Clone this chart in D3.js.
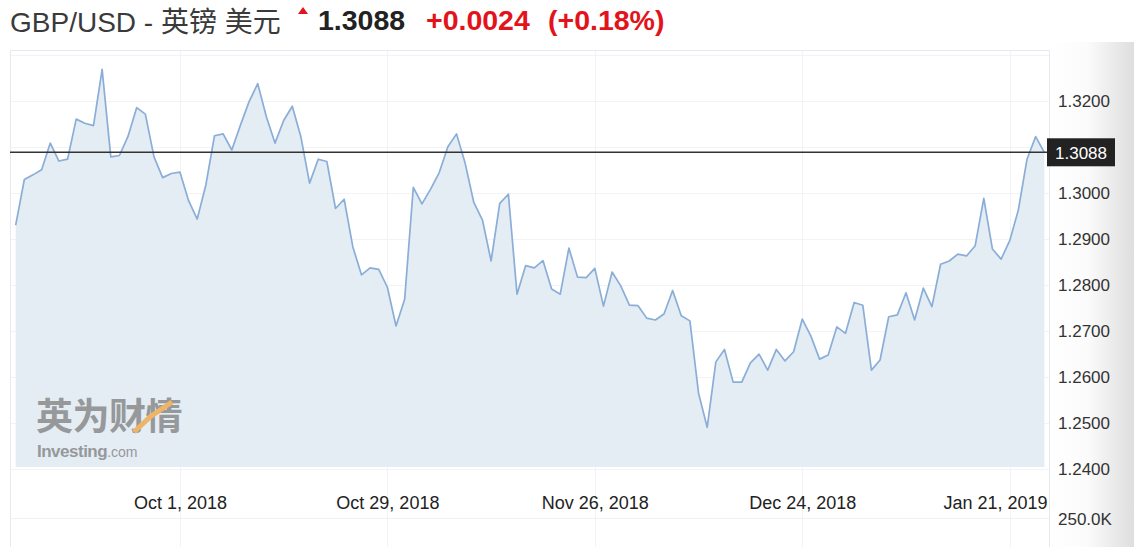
<!DOCTYPE html>
<html>
<head>
<meta charset="utf-8">
<script src="https://cdn.jsdelivr.net/npm/d3@7"></script>
<style>
  body { margin: 0; background: #fff; }
  text { font-family: "Liberation Sans", Arial, "Noto Sans CJK SC", sans-serif; }
</style>
</head>
<body>
<div id="chart"></div>
<script>
// header
const pairName = 'GBP/USD - 英镑 美元';
const lastPrice = 1.3088;
const changeText = '+0.0024';
const changePctText = '(+0.18%)';

// daily closes, one per trading day (Sun–Fri), starting Sunday 9 Sep 2018
const startDate = '2018-09-09';
const closes = [
  1.2930, 1.3029, 1.3039, 1.3050, 1.3108, 1.3069, 1.3073, 1.3160, 1.3151, 1.3146,
  1.3268, 1.3078, 1.3081, 1.3123, 1.3185, 1.3171, 1.3078, 1.3033, 1.3042, 1.3045,
  1.2983, 1.2943, 1.3017, 1.3124, 1.3128, 1.3093, 1.3147, 1.3198, 1.3237, 1.3165,
  1.3108, 1.3157, 1.3188, 1.3121, 1.3021, 1.3073, 1.3068, 1.2966, 1.2986, 1.2883,
  1.2822, 1.2837, 1.2834, 1.2795, 1.2711, 1.2769, 1.3012, 1.2976, 1.3008, 1.3044,
  1.3100, 1.3128, 1.3064, 1.2979, 1.2941, 1.2852, 1.2977, 1.2997, 1.2780, 1.2842,
  1.2837, 1.2853, 1.2791, 1.2780, 1.2880, 1.2817, 1.2816, 1.2836, 1.2754, 1.2828,
  1.2798, 1.2756, 1.2755, 1.2728, 1.2724, 1.2737, 1.2788, 1.2733, 1.2722, 1.2565,
  1.2491, 1.2633, 1.2660, 1.2589, 1.2589, 1.2631, 1.2650, 1.2615, 1.2660, 1.2635,
  1.2655, 1.2726, 1.2689, 1.2639, 1.2648, 1.2709, 1.2695, 1.2762, 1.2756, 1.2615,
  1.2637, 1.2731, 1.2735, 1.2783, 1.2724, 1.2793, 1.2753, 1.2845, 1.2852, 1.2867,
  1.2863, 1.2885, 1.2988, 1.2878, 1.2856, 1.2896, 1.2963, 1.3073, 1.3122, 1.3088,
];

const gridValues = [1.24, 1.25, 1.26, 1.27, 1.28, 1.29, 1.30, 1.31, 1.32, 1.33];
// 1.3100 sits under the price tag, so it gets no label
const yTicks = [1.24, 1.25, 1.26, 1.27, 1.28, 1.29, 1.30, 1.32];
const xTickLabels = ['Oct 1, 2018', 'Oct 29, 2018', 'Nov 26, 2018', 'Dec 24, 2018', 'Jan 21, 2019'];
const volumeLabel = '250.0K';

const W = 1134;
const H = 547;
const frame = { left: 10, right: 1049, top: 50, bottom: 547 };
const plotBottom = 467;
const volTop = 518;

// trading days skip Saturdays
const dates = [];
let d = d3.timeParse('%Y-%m-%d')(startDate);
while (dates.length < closes.length) {
  if (d.getDay() !== 6) dates.push(d);
  d = d3.timeDay.offset(d, 1);
}
const fmtDate = d3.timeFormat('%b %-d, %Y');
const data = closes.map((c, i) => ({ i, date: dates[i], close: c }));
const tickIdx = xTickLabels.map(l => data.findIndex(p => fmtDate(p.date) === l));

const x = d3.scaleLinear().domain([0, closes.length - 1]).range([15.7, 1044.3]);
const y = d3.scaleLinear().domain([1.24, 1.32]).range([469.2, 100.7]);

const svg = d3.select('#chart').append('svg')
  .attr('width', W)
  .attr('height', H);

const defs = svg.append('defs');
const grad = defs.append('linearGradient').attr('id', 'side');
grad.append('stop').attr('offset', '0%').attr('stop-color', '#ffffff');
grad.append('stop').attr('offset', '45%').attr('stop-color', '#fbfbfb');
grad.append('stop').attr('offset', '100%').attr('stop-color', '#dedede');
svg.append('rect')
  .attr('x', frame.right).attr('y', frame.top - 8)
  .attr('width', W - frame.right).attr('height', H)
  .attr('fill', 'url(#side)');

svg.append('rect')
  .attr('x', frame.left).attr('y', frame.top)
  .attr('width', frame.right - frame.left).attr('height', H - frame.top + 2)
  .attr('fill', '#fff');

// grid
svg.append('g')
  .selectAll('line')
  .data(gridValues)
  .enter().append('line')
  .attr('x1', frame.left).attr('x2', frame.right)
  .attr('y1', v => Math.round(y(v)) + 0.5).attr('y2', v => Math.round(y(v)) + 0.5)
  .attr('stroke', '#f1f3f6');

svg.append('g')
  .selectAll('line')
  .data(tickIdx)
  .enter().append('line')
  .attr('x1', i => Math.round(x(i)) + 0.5).attr('x2', i => Math.round(x(i)) + 0.5)
  .attr('y1', frame.top).attr('y2', H)
  .attr('stroke', '#f1f3f6');

// area + line
const area = d3.area()
  .x(p => x(p.i))
  .y0(plotBottom)
  .y1(p => y(p.close));

const line = d3.line()
  .x(p => x(p.i))
  .y(p => y(p.close));

svg.append('path')
  .datum(data)
  .attr('d', area)
  .attr('fill', '#e4ecf4');

svg.append('path')
  .datum(data)
  .attr('d', line)
  .attr('fill', 'none')
  .attr('stroke', '#8aaed7')
  .attr('stroke-width', 1.7)
  .attr('stroke-linejoin', 'round');

// frame lines
const frameG = svg.append('g').attr('stroke', '#e6e9ef').attr('fill', 'none');
frameG.append('line').attr('x1', frame.left).attr('x2', frame.right).attr('y1', frame.top + 0.5).attr('y2', frame.top + 0.5);
frameG.append('line').attr('x1', frame.left + 0.5).attr('x2', frame.left + 0.5).attr('y1', frame.top).attr('y2', H);
frameG.append('line').attr('x1', frame.right + 0.5).attr('x2', frame.right + 0.5).attr('y1', frame.top).attr('y2', H);
frameG.append('line').attr('x1', frame.left).attr('x2', frame.right).attr('y1', volTop + 0.5).attr('y2', volTop + 0.5).attr('stroke', '#eef0f3');

// watermark
const wm = svg.append('g').attr('opacity', 0.75);
wm.append('text')
  .attr('x', 36).attr('y', 430)
  .attr('font-size', 37).attr('font-weight', 'bold')
  .attr('font-family', '"Noto Sans CJK SC", sans-serif')
  .attr('fill', '#7c7c7c')
  .attr('letter-spacing', -0.5)
  .text('英为财情');
wm.append('path')
  .attr('d', 'M134,432 L150,417 L172,402')
  .attr('stroke', '#f2a33a').attr('stroke-width', 5).attr('fill', 'none');
const wmt = wm.append('text').attr('x', 37).attr('y', 457).attr('fill', '#7c7c7c');
wmt.append('tspan').attr('font-size', 17).attr('font-weight', 'bold').attr('letter-spacing', -0.5).text('Investing');
wmt.append('tspan').attr('font-size', 14).text('.com');

// current price line
svg.append('line')
  .attr('x1', frame.left).attr('x2', frame.right)
  .attr('y1', y(lastPrice)).attr('y2', y(lastPrice))
  .attr('stroke', '#333').attr('stroke-width', 1.6);

// y axis
const yAxis = d3.axisRight(y)
  .tickValues(yTicks)
  .tickFormat(d3.format('.4f'))
  .tickSize(0)
  .tickPadding(9);
const yG = svg.append('g')
  .attr('transform', `translate(${frame.right},0)`)
  .call(yAxis);
yG.select('.domain').remove();
yG.selectAll('text').attr('font-size', 17).attr('fill', '#333').style('font-family', '"Liberation Sans", Arial, sans-serif');

// price tag
const tag = svg.append('g').attr('transform', `translate(1047,${y(lastPrice)})`);
tag.append('rect')
  .attr('x', 0).attr('y', -14).attr('width', 68).attr('height', 28)
  .attr('fill', '#222');
tag.append('text')
  .attr('x', 34).attr('y', 6.5)
  .attr('text-anchor', 'middle')
  .attr('font-size', 17)
  .attr('fill', '#fff')
  .text(d3.format('.4f')(lastPrice));

// x axis
const xAxis = d3.axisBottom(x)
  .tickValues(tickIdx)
  .tickFormat((i, k) => xTickLabels[k])
  .tickSize(0)
  .tickPadding(29);
const xG = svg.append('g')
  .attr('transform', `translate(0,${plotBottom})`)
  .call(xAxis);
xG.select('.domain').remove();
xG.selectAll('text').attr('font-size', 18).attr('fill', '#222').style('font-family', '"Liberation Sans", Arial, sans-serif');
xG.selectAll('text').each(function () {
  const b = this.getBBox();
  const tx = x(+d3.select(this.parentNode).datum());
  if (tx + b.x + b.width > frame.right - 2) {
    d3.select(this).attr('x', frame.right - 2 - (tx + b.x + b.width));
  }
});

// volume label
svg.append('text')
  .attr('x', 1058).attr('y', 525)
  .attr('font-size', 17).attr('fill', '#333')
  .text(volumeLabel);

// header
const head = svg.append('g');
head.append('text')
  .attr('x', 10).attr('y', 32)
  .attr('font-size', 28).attr('fill', '#3a3a3a')
  .text(pairName);
head.append('path')
  .attr('d', 'M298,14 L303,7 L308,14 Z')
  .attr('fill', '#e3131b');
head.append('text')
  .attr('x', 318).attr('y', 30)
  .attr('font-size', 28.5).attr('font-weight', 'bold').attr('fill', '#222')
  .text(d3.format('.4f')(lastPrice));
head.append('text')
  .attr('x', 426).attr('y', 30)
  .attr('font-size', 28.5).attr('font-weight', 'bold').attr('fill', '#e3131b')
  .text(changeText);
head.append('text')
  .attr('x', 548).attr('y', 30)
  .attr('font-size', 28.5).attr('font-weight', 'bold').attr('fill', '#e3131b')
  .text(changePctText);
</script>
</body>
</html>
